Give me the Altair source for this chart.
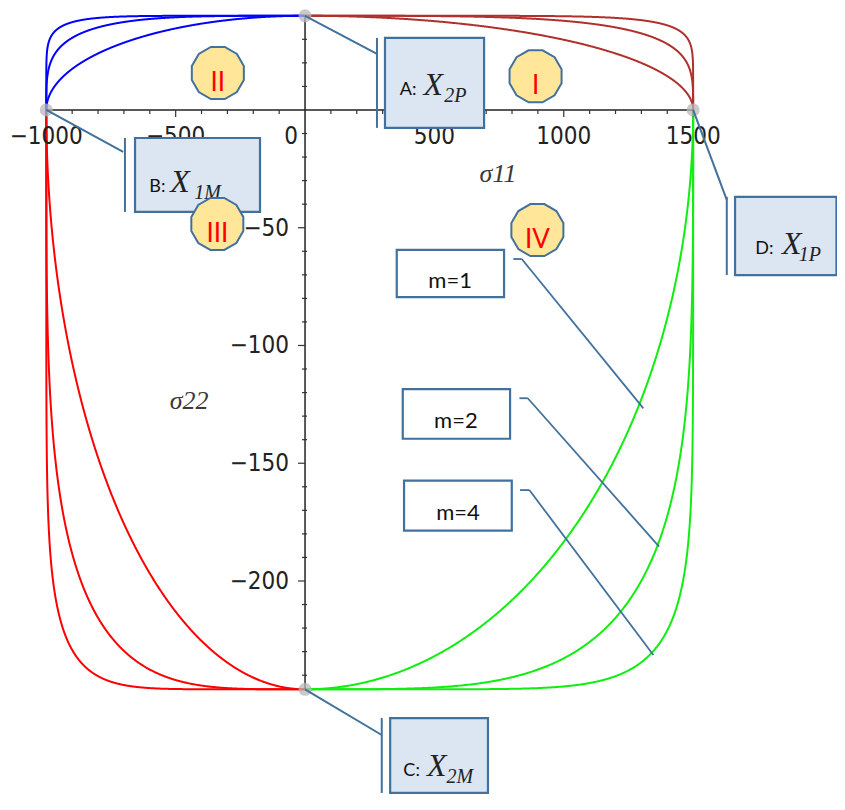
import math
import altair as alt
import numpy as np
import pandas as pd

# ---------------- data ----------------
# strengths (end points of the envelope)
X1P = 1500    # D
X1M = -1000   # B
X2P = 40      # A
X2M = -246    # C
M_VALUES = [1, 2, 4]
QUADRANTS = ["I", "II", "III", "IV"]
QUAD_X = [X1P, X1M, X1M, X1P]
QUAD_Y = [X2P, X2P, X2M, X2M]
QUAD_COLORS = ["#b0302c", "#0000ff", "#ff0000", "#10ee10"]

X_MAJOR = [-1000, -500, 500, 1000, 1500]
X_MAJOR_LABELS = ["\u22121000", "\u2212500", "500", "1000", "1500"]
X_MINOR = [-900, -800, -700, -600, -400, -300, -200, -100, 100, 200, 300, 400,
           600, 700, 800, 900, 1100, 1200, 1300, 1400]
Y_MAJOR = [-200, -150, -100, -50]
Y_MAJOR_LABELS = ["\u2212200", "\u2212150", "\u2212100", "\u221250"]
Y_MINOR = [-240, -230, -220, -210, -190, -180, -170, -160, -140, -130, -120, -110,
           -90, -80, -70, -60, -40, -30, -20, -10, 10, 20, 30]

# callout points (A, B, C, D)
PT_NAME = ["A", "B", "C", "D"]
PT_X = [0, X1M, 0, X1P]
PT_Y = [X2P, 0, X2M, 0]

# callout boxes
BOX_X = [309, -657, 329, 1662]
BOX_X2 = [692, -174, 707, 2054]
BOX_Y = [30.6, -11.9, -258.2, -36.9]
BOX_Y2 = [-7.6, -43.3, -290, -70.1]
BOX_LETTER = ["A:", "B:", "C:", "D:"]
BOX_SUB = ["2P", "1M", "2M", "1P"]
LETTER_X = [366, -602, 380, 1740]
SYM_X = [458, -521, 471, 1843]
SUB_X = [538, -428, 547, 1908]
TXT_Y = [6.4, -34.8, -283.0, -61.0]

# connector lines: diagonal to the bracket, bracket beside each box
LINE_X = [0, X1M, 0, X1P, 278, -696, 296.5, 1630]
LINE_Y = [X2P, 0, X2M, 0, 30.6, -11.9, -258.2, -36.9]
LINE_X2 = [278, -703, 296.5, 1630, 278, -696, 296.5, 1630]
LINE_Y2 = [23.8, -17.8, -265.4, -38.2, -7.6, -43.3, -290, -70.1]

# m labels
M_LABELS = ["m=1", "m=2", "m=4"]
MBOX_X = [354.5, 377.7, 382.7]
MBOX_X2 = [769.2, 792.4, 799.0]
MBOX_Y = [-59.4, -118.5, -157.4]
MBOX_Y2 = [-79.5, -139.6, -178.6]
MTXT_X = [561, 583, 591]
MTXT_Y = [-75.6, -135.0, -174.1]
MPTR_X = [805, 828.4, 831, 837.6, 860.9, 867]
MPTR_Y = [-63.3, -122.4, -161.4, -63.3, -122.4, -161.4]
MPTR_X2 = [837.6, 860.9, 867, 1307.7, 1368.4, 1346.3]
MPTR_Y2 = [-63.3, -122.4, -161.4, -126.7, -185.4, -231.4]

# quadrant badges
BADGE_LABEL = ["I", "II", "III", "IV"]
BADGE_X = [891, -337, -339, 898]
BADGE_Y = [14.3, 15.7, -48.4, -51.0]

# ---------------- envelope curves ----------------
rows = []
t = np.linspace(0, math.pi / 2, 700)
for qi, q in enumerate(QUADRANTS):
    for m in M_VALUES:
        xs_ = QUAD_X[qi] * np.cos(t) ** (1.0 / m)
        ys_ = QUAD_Y[qi] * np.sin(t) ** (1.0 / m)
        for k, (a, b) in enumerate(zip(xs_, ys_)):
            rows.append({"s11": float(a), "s22": float(b), "quad": q,
                         "series": f"{q}-{m}", "k": k})
curves = pd.DataFrame(rows)

# ---------------- scales ----------------
xs = alt.Scale(domain=[-1148, 2056], nice=False, zero=False)
ys = alt.Scale(domain=[-291.3, 43.3], nice=False, zero=False)


def X(f):
    return alt.X(f, type="quantitative", scale=xs, axis=None)


def Y(f):
    return alt.Y(f, type="quantitative", scale=ys, axis=None)


def X2(f):
    return alt.X2(f)


def Y2(f):
    return alt.Y2(f)


BLUE = "#41719c"
TICK_FONT = "Liberation Sans Narrow, DejaVu Sans Condensed, DejaVu Sans"
SERIF = "Liberation Serif, DejaVu Serif"
SANS = "Lato, Open Sans, sans-serif"

layers = []

layers.append(
    alt.Chart(curves).mark_line(strokeWidth=2, clip=False).encode(
        x=X("s11"), y=Y("s22"),
        color=alt.Color("quad:N", scale=alt.Scale(domain=QUADRANTS, range=QUAD_COLORS), legend=None),
        detail="series:N", order="k:Q")
)

axes_df = pd.DataFrame({"x": [X1M, 0], "x2": [X1P, 0], "y": [0, X2M], "y2": [0, X2P]})
layers.append(
    alt.Chart(axes_df).mark_rule(color="#222", strokeWidth=1.5).encode(
        x=X("x"), x2=X2("x2"), y=Y("y"), y2=Y2("y2"))
)

xmin_df = pd.DataFrame({"x": X_MINOR, "y": 0})
layers.append(
    alt.Chart(xmin_df).mark_rule(color="#333", strokeWidth=1.2, y2Offset=4).encode(
        x=X("x"), y=Y("y"), y2=Y2("y"))
)
xmaj_df = pd.DataFrame({"x": X_MAJOR, "y": 0, "label": X_MAJOR_LABELS})
layers.append(
    alt.Chart(xmaj_df).mark_rule(color="#333", strokeWidth=1.2, y2Offset=7).encode(
        x=X("x"), y=Y("y"), y2=Y2("y"))
)
ymin_df = pd.DataFrame({"y": Y_MINOR, "x": 0})
layers.append(
    alt.Chart(ymin_df).mark_rule(color="#333", strokeWidth=1.2, xOffset=-3, x2Offset=2).encode(
        y=Y("y"), x=X("x"), x2=X2("x"))
)
ymaj_df = pd.DataFrame({"y": Y_MAJOR, "x": 0, "label": Y_MAJOR_LABELS})
layers.append(
    alt.Chart(ymaj_df).mark_rule(color="#333", strokeWidth=1.2, xOffset=-7, x2Offset=0).encode(
        y=Y("y"), x=X("x"), x2=X2("x"))
)

# tick labels
layers.append(
    alt.Chart(xmaj_df).mark_text(font=TICK_FONT, fontSize=24, color="#222", baseline="middle",
                                 align="center", dy=27).encode(
        x=X("x"), y=Y("y"), text="label:N")
)
layers.append(
    alt.Chart(pd.DataFrame({"x": [0], "y": [0], "label": ["0"]})).mark_text(
        font=TICK_FONT, fontSize=24, color="#222", baseline="middle", align="center",
        dx=-14, dy=27).encode(x=X("x"), y=Y("y"), text="label:N")
)
layers.append(
    alt.Chart(ymaj_df).mark_text(font=TICK_FONT, fontSize=24, color="#222", baseline="middle",
                                 align="right", dx=-16, dy=1).encode(
        x=X("x"), y=Y("y"), text="label:N")
)

# axis titles
titles_df = pd.DataFrame({"x": [746, -448], "y": [-27, -123.6], "label": ["\u03c311", "\u03c322"]})
layers.append(
    alt.Chart(titles_df).mark_text(font=SERIF, fontStyle="italic", fontSize=26, color="#3a3a3a",
                                   baseline="middle", align="center").encode(
        x=X("x"), y=Y("y"), text="label:N")
)

# grey markers at A, B, C, D
pts_df = pd.DataFrame({"x": PT_X, "y": PT_Y, "name": PT_NAME})
layers.append(
    alt.Chart(pts_df).mark_circle(size=170, color="#b8b8b8", opacity=0.75).encode(
        x=X("x"), y=Y("y"))
)

# connector lines
lines_df = pd.DataFrame({"x": LINE_X, "y": LINE_Y, "x2": LINE_X2, "y2": LINE_Y2})
layers.append(
    alt.Chart(lines_df).mark_rule(color=BLUE, strokeWidth=2).encode(
        x=X("x"), y=Y("y"), x2=X2("x2"), y2=Y2("y2"))
)
mptr_df = pd.DataFrame({"x": MPTR_X, "y": MPTR_Y, "x2": MPTR_X2, "y2": MPTR_Y2})
layers.append(
    alt.Chart(mptr_df).mark_rule(color=BLUE, strokeWidth=1.8).encode(
        x=X("x"), y=Y("y"), x2=X2("x2"), y2=Y2("y2"))
)

# callout boxes
box_df = pd.DataFrame({"x": BOX_X, "x2": BOX_X2, "y": BOX_Y, "y2": BOX_Y2,
                       "letter": BOX_LETTER, "sub": BOX_SUB,
                       "lx": LETTER_X, "sx": SYM_X, "ux": SUB_X, "ty": TXT_Y,
                       "sym": ["X"] * 4})
layers.append(
    alt.Chart(box_df).mark_rect(fill="#dce6f2", stroke=BLUE, strokeWidth=2.2).encode(
        x=X("x"), x2=X2("x2"), y=Y("y"), y2=Y2("y2"))
)
layers.append(
    alt.Chart(box_df).mark_text(font=SANS, fontSize=18, color="#111", align="left",
                                baseline="alphabetic").encode(
        x=X("lx"), y=Y("ty"), text="letter:N")
)
layers.append(
    alt.Chart(box_df).mark_text(font=SERIF, fontStyle="italic", fontSize=32, color="#222",
                                align="left", baseline="alphabetic").encode(
        x=X("sx"), y=Y("ty"), text="sym:N")
)
layers.append(
    alt.Chart(box_df).mark_text(font=SERIF, fontStyle="italic", fontSize=20, color="#222",
                                align="left", baseline="alphabetic", dy=7).encode(
        x=X("ux"), y=Y("ty"), text="sub:N")
)

# m boxes
mbox_df = pd.DataFrame({"x": MBOX_X, "x2": MBOX_X2, "y": MBOX_Y, "y2": MBOX_Y2,
                        "tx": MTXT_X, "ty": MTXT_Y, "label": M_LABELS})
layers.append(
    alt.Chart(mbox_df).mark_rect(fill="white", stroke=BLUE, strokeWidth=2.2).encode(
        x=X("x"), x2=X2("x2"), y=Y("y"), y2=Y2("y2"))
)
layers.append(
    alt.Chart(mbox_df).mark_text(font=SANS, fontSize=22, color="#111", align="center",
                                 baseline="alphabetic").encode(
        x=X("tx"), y=Y("ty"), text="label:N")
)

# quadrant badges (12-sided)
poly = []
for k in range(12):
    a = math.radians(15 + 30 * k)
    poly.append(f"{math.cos(a):.4f},{math.sin(a):.4f}")
DODECA = "M" + " L".join(poly) + " Z"

badge_df = pd.DataFrame({"x": BADGE_X, "y": BADGE_Y, "label": BADGE_LABEL})
layers.append(
    alt.Chart(badge_df).mark_point(shape=DODECA, size=2900, filled=True, fill="#ffe699",
                                   stroke=BLUE, strokeWidth=2, opacity=1).encode(
        x=X("x"), y=Y("y"))
)
layers.append(
    alt.Chart(badge_df).mark_text(font=SANS, fontSize=26, color="#ff0000", align="center",
                                  baseline="middle", dy=10).encode(
        x=X("x"), y=Y("y"), text="label:N")
)

chart = alt.layer(*layers).properties(
    width=829, height=788, padding=0,
    autosize=alt.AutoSizeParams(type="none"),
).configure_view(stroke=None)

chart.save("out.html", embed_options={"renderer": "svg", "actions": False})
